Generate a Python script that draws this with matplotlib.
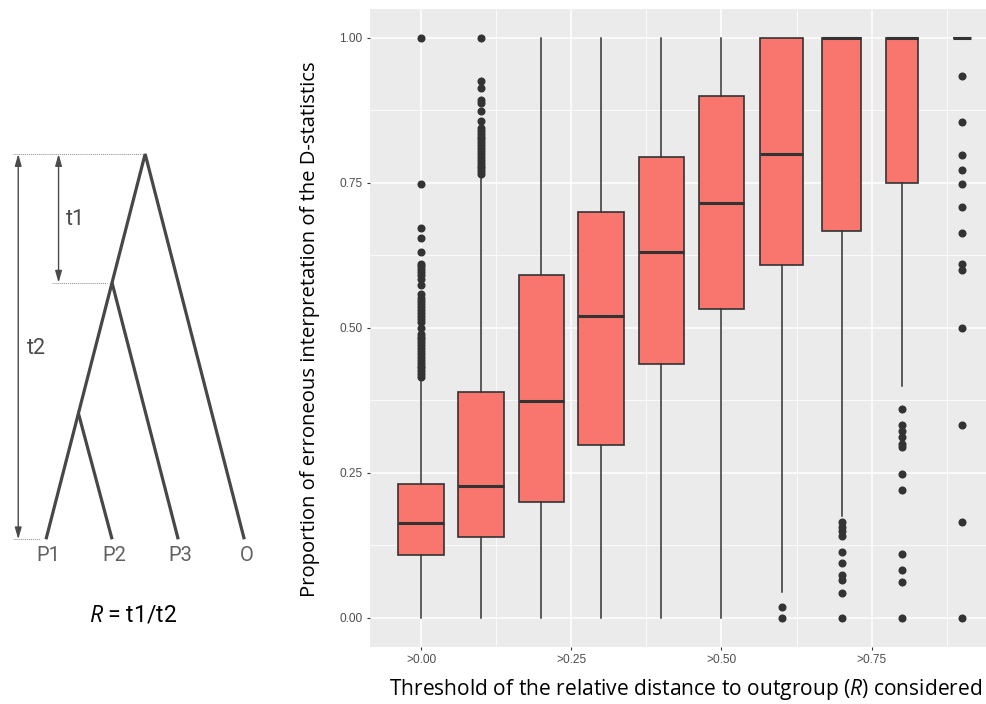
import matplotlib
matplotlib.use("Agg")
import matplotlib.pyplot as plt
import numpy as np

plt.rcParams['mathtext.fontset'] = 'custom'
plt.rcParams['mathtext.it'] = 'Open Sans:italic'
plt.rcParams['mathtext.rm'] = 'Open Sans'

# ---------------- data ----------------
thresholds = [0.0, 0.1, 0.2, 0.3, 0.4, 0.5, 0.6, 0.7, 0.8, 0.9]
q1 = [0.109, 0.139, 0.199, 0.298, 0.437, 0.532, 0.608, 0.667, 0.750, 1.0]
med = [0.163, 0.228, 0.373, 0.520, 0.630, 0.716, 0.800, 1.0, 1.0, 1.0]
q3 = [0.231, 0.390, 0.591, 0.699, 0.795, 0.900, 1.0, 1.0, 1.0, 1.0]
whislo = [0.0, 0.0, 0.0, 0.0, 0.0, 0.0, 0.045, 0.176, 0.400, 1.0]
whishi = [0.413, 0.763, 1.0, 1.0, 1.0, 1.0, 1.0, 1.0, 1.0, 1.0]
box_widths = [0.075, 0.0755, 0.075, 0.076, 0.075, 0.0745, 0.072, 0.0655, 0.053, 0.0305]
outliers = [
    [1.0, 0.748, 0.673, 0.655, 0.631, 0.611, 0.606, 0.601, 0.596, 0.591, 0.585,
     0.574, 0.559, 0.551, 0.546, 0.541, 0.536, 0.531, 0.526, 0.521, 0.515, 0.510,
     0.499, 0.490, 0.485, 0.480, 0.475, 0.470, 0.465, 0.460, 0.455, 0.450, 0.445,
     0.440, 0.435, 0.430, 0.425, 0.420, 0.416],
    [1.0, 0.926, 0.914, 0.893, 0.887, 0.874, 0.857, 0.844, 0.840, 0.835, 0.830,
     0.825, 0.820, 0.815, 0.810, 0.805, 0.800, 0.795, 0.790, 0.785, 0.780, 0.775,
     0.770, 0.766],
    [], [], [], [],
    [0.019, 0.0],
    [0.165, 0.157, 0.149, 0.141, 0.113, 0.095, 0.073, 0.065, 0.043, 0.0],
    [0.360, 0.333, 0.322, 0.311, 0.300, 0.294, 0.248, 0.221, 0.110, 0.082, 0.062, 0.0],
    [0.935, 0.855, 0.798, 0.773, 0.748, 0.709, 0.664, 0.611, 0.599, 0.499, 0.332, 0.165, 0.0],
]
xtick_vals = [0.0, 0.25, 0.5, 0.75]
xtick_labels = [">0.00", ">0.25", ">0.50", ">0.75"]
ytick_vals = [0.0, 0.25, 0.5, 0.75, 1.0]
ytick_labels = ["0.00", "0.25", "0.50", "0.75", "1.00"]

# tree diagram (tips at x = 0..3, heights relative to root = 1)
tip_names = ["P1", "P2", "P3", "O"]
tip_x = [0, 1, 2, 3]
h_p12 = 0.327      # P1-P2 ancestor
h_p123 = 0.666     # P1-P2-P3 ancestor
h_root = 1.0

# ---------------- figure ----------------
W, H = 987, 704
fig = plt.figure(figsize=(W / 100, H / 100), dpi=100)

# tree axes mapped over the full figure
ax_t = fig.add_axes([0, 0, 1, 1])
sx, ox = 66.1, 46.0
sy, oy = 385.3, 539.3
ax_t.set_xlim((0 - ox) / sx, (W - ox) / sx)
ax_t.set_ylim((oy - H) / sy, (oy - 0) / sy)
ax_t.axis('off')

root_x = (tip_x[0] + tip_x[3]) / 2
def on_main(h):
    return tip_x[0] + (root_x - tip_x[0]) * h / h_root

tree_col = '#474747'
lw_tree = 2.3
ax_t.plot([tip_x[0], root_x, tip_x[3]], [0, h_root, 0], color=tree_col, lw=lw_tree,
          solid_joinstyle='miter', solid_capstyle='butt')
ax_t.plot([on_main(h_p123), tip_x[2]], [h_p123, 0], color=tree_col, lw=lw_tree,
          solid_capstyle='butt')
ax_t.plot([on_main(h_p12), tip_x[1]], [h_p12, 0], color=tree_col, lw=lw_tree,
          solid_capstyle='butt')

# dotted guides
gcol = '#8c8c8c'
ax_t.plot([-0.5, root_x - 0.05], [h_root, h_root], color=gcol, lw=0.7, ls=(0, (1, 1)))
ax_t.plot([0.09, on_main(h_p123) - 0.08], [h_p123, h_p123], color=gcol, lw=0.7, ls=(0, (1, 1)))
ax_t.plot([-0.5, -0.09], [0, 0], color=gcol, lw=0.7, ls=(0, (1, 1)))

# arrows
acol = '#4a4a4a'
ax_t.annotate('', xy=(-0.42, 0), xytext=(-0.42, h_root),
              arrowprops=dict(arrowstyle='<|-|>,head_length=0.7,head_width=0.2',
                              color=acol, lw=1.0, shrinkA=0, shrinkB=0))
ax_t.annotate('', xy=(0.19, h_p123), xytext=(0.19, h_root),
              arrowprops=dict(arrowstyle='<|-|>,head_length=0.7,head_width=0.2',
                              color=acol, lw=1.0, shrinkA=0, shrinkB=0))
ax_t.text(0.44, 0.829, "t1", fontsize=15.5, color='#4a4a4a', ha='center', va='center',
          family='Roboto')
ax_t.text(-0.14, 0.496, "t2", fontsize=15.5, color='#4a4a4a', ha='center', va='center',
          family='Roboto')
for x, name in zip(tip_x, tip_names):
    ax_t.text(x + 0.03, -0.041, name, fontsize=14.5, color='#606060', ha='center',
              va='center', family='Roboto')
ax_t.text(1.316, -0.196, "$R$ = t1/t2", fontsize=16.5, color='black', ha='center',
          va='center', family='Roboto')

# ---------------- boxplot axes ----------------
L, R_, B, T = 370, 987, 646.7, 9
ax = fig.add_axes([L / W, 1 - B / H, (R_ - L) / W, (B - T) / H])
ax.set_facecolor('#EBEBEB')

stats = []
for i in range(len(thresholds)):
    stats.append(dict(med=med[i], q1=q1[i], q3=q3[i], whislo=whislo[i],
                      whishi=whishi[i], fliers=outliers[i]))

edge = '#333333'
ax.bxp(stats, positions=thresholds, widths=box_widths, patch_artist=True,
       showcaps=False, manage_ticks=False,
       boxprops=dict(facecolor='#F8766D', edgecolor=edge, linewidth=1.2),
       medianprops=dict(color=edge, linewidth=2.2, solid_capstyle='butt'),
       whiskerprops=dict(color=edge, linewidth=1.1),
       flierprops=dict(marker='o', markerfacecolor=edge, markeredgecolor=edge,
                       markersize=4.8, linestyle='none'),
       zorder=3)

ax.set_xlim(-0.0849, 0.9419)
ax.set_ylim(-0.05, 1.05)
ax.set_xticks(xtick_vals)
ax.set_xticklabels(xtick_labels)
ax.set_yticks(ytick_vals)
ax.set_yticklabels(ytick_labels)
ax.set_xticks([0.125, 0.375, 0.625, 0.875], minor=True)
ax.set_yticks([0.125, 0.375, 0.625, 0.875], minor=True)
ax.grid(which='major', color='white', linewidth=1.1, zorder=0)
ax.grid(which='minor', color='white', linewidth=0.55, zorder=0)
ax.set_axisbelow(True)
for s in ax.spines.values():
    s.set_visible(False)
ax.tick_params(which='major', length=2.5, width=0.8, color='#333333',
               labelcolor='#4D4D4D', labelsize=8.6, pad=3)
ax.tick_params(which='minor', length=0)
for lab in ax.get_xticklabels() + ax.get_yticklabels():
    lab.set_family('Liberation Sans')

fig.text(686 / W, 1 - 690 / H,
         "Threshold of the relative distance to outgroup ($R$) considered",
         ha='center', va='center', fontsize=15.1, family='Open Sans', color='black')
fig.text(310 / W, 1 - 329 / H,
         "Proportion of erroneous interpretation of the D-statistics",
         ha='center', va='center', rotation=90, fontsize=14.6, family='Open Sans',
         color='black')

fig.savefig('out.png', dpi=100, facecolor='white')
